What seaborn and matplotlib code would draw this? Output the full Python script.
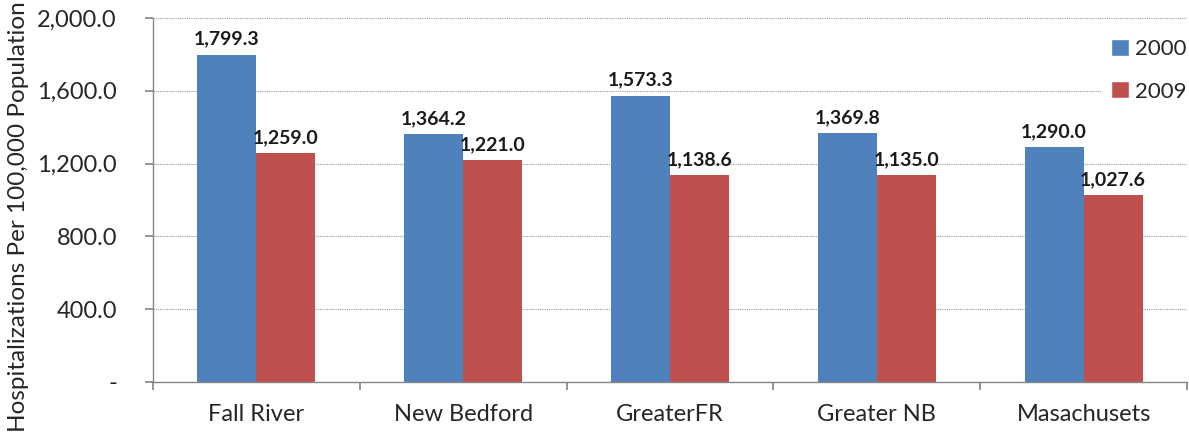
import matplotlib
matplotlib.use("Agg")
import matplotlib.pyplot as plt
import seaborn as sns
import pandas as pd
from matplotlib.ticker import FuncFormatter, FixedLocator
from matplotlib.patches import Patch

categories = ["Fall River", "New Bedford", "GreaterFR", "Greater NB", "Masachusets"]
years = ["2000", "2009"]
values_2000 = [1799.3, 1364.2, 1573.3, 1369.8, 1290.0]
values_2009 = [1259.0, 1221.0, 1138.6, 1135.0, 1027.6]
y_ticks = [0, 400, 800, 1200, 1600, 2000]

df = pd.DataFrame({
    "Region": categories * 2,
    "Year": [years[0]] * len(categories) + [years[1]] * len(categories),
    "Rate": values_2000 + values_2009,
})

sns.set_theme(style="white")
plt.rcParams["font.family"] = ["Lato", "DejaVu Sans"]

BLUE = "#4F81BD"
RED = "#C0504D"
TEXT = "#262626"

fig = plt.figure(figsize=(11.89, 4.33), dpi=100)
ax = fig.add_axes([153 / 1189, 1 - 382 / 433, (1187 - 153) / 1189, (382 - 18) / 433])

sns.barplot(data=df, x="Region", y="Rate", hue="Year", palette=[BLUE, RED],
            width=0.57, gap=0, saturation=1, ax=ax, legend=False,
            linewidth=0)

ax.set_ylim(0, 2000)
ax.set_xlim(-0.5, 4.5 - 21 / 211)
ax.yaxis.set_major_locator(FixedLocator(y_ticks))
ax.yaxis.set_major_formatter(FuncFormatter(lambda v, p: "-" if v == 0 else f"{v:,.1f}"))
ax.grid(axis="y", color="#9a9a9a", linestyle=(0, (1, 1)), linewidth=0.8)
ax.set_axisbelow(True)

for side in ["top", "right"]:
    ax.spines[side].set_visible(False)
for side in ["left", "bottom"]:
    ax.spines[side].set_color("#868686")
    ax.spines[side].set_linewidth(1.0)

ax.set_xticks([i + 0.5 for i in range(-1, len(categories))], minor=False)
ax.set_xticklabels([])
ax.set_xticks(range(len(categories)), minor=True)
ax.set_xticklabels(categories, minor=True)
ax.tick_params(axis="x", which="major", length=6, color="#868686", direction="out", bottom=True)
ax.tick_params(axis="x", which="minor", length=0, pad=16, labelsize=17, labelcolor=TEXT)
ax.tick_params(axis="y", length=6, color="#868686", direction="out", left=True,
               labelsize=17, labelcolor=TEXT, pad=20)

ax.set_xlabel("")
ax.set_ylabel("Hospitalizations Per 100,000 Population", fontsize=17.5, color=TEXT)
ax.yaxis.set_label_coords(19 / 1189, 0.5 - 0.5 * 0, transform=fig.transFigure)
ax.yaxis.label.set_verticalalignment("center")

for container in ax.containers:
    ax.bar_label(container, labels=[f"{v:,.1f}" for v in container.datavalues],
                 padding=5, fontsize=14, fontweight="bold", color="#1a1a1a")

handles = [Patch(facecolor=BLUE, label=years[0]), Patch(facecolor=RED, label=years[1])]
leg = ax.legend(handles=handles, loc="upper left", bbox_to_anchor=(1102 / 1189, 1 - 30 / 433),
                bbox_transform=fig.transFigure, frameon=True, fontsize=16,
                handlelength=0.8, handleheight=0.8, handletextpad=0.3,
                labelspacing=1.0, borderpad=0.4, borderaxespad=0)
leg.get_frame().set_facecolor("white")
leg.get_frame().set_edgecolor("white")
leg.get_frame().set_alpha(1)
for t in leg.get_texts():
    t.set_color(TEXT)

fig.savefig("out.png", dpi=100)
